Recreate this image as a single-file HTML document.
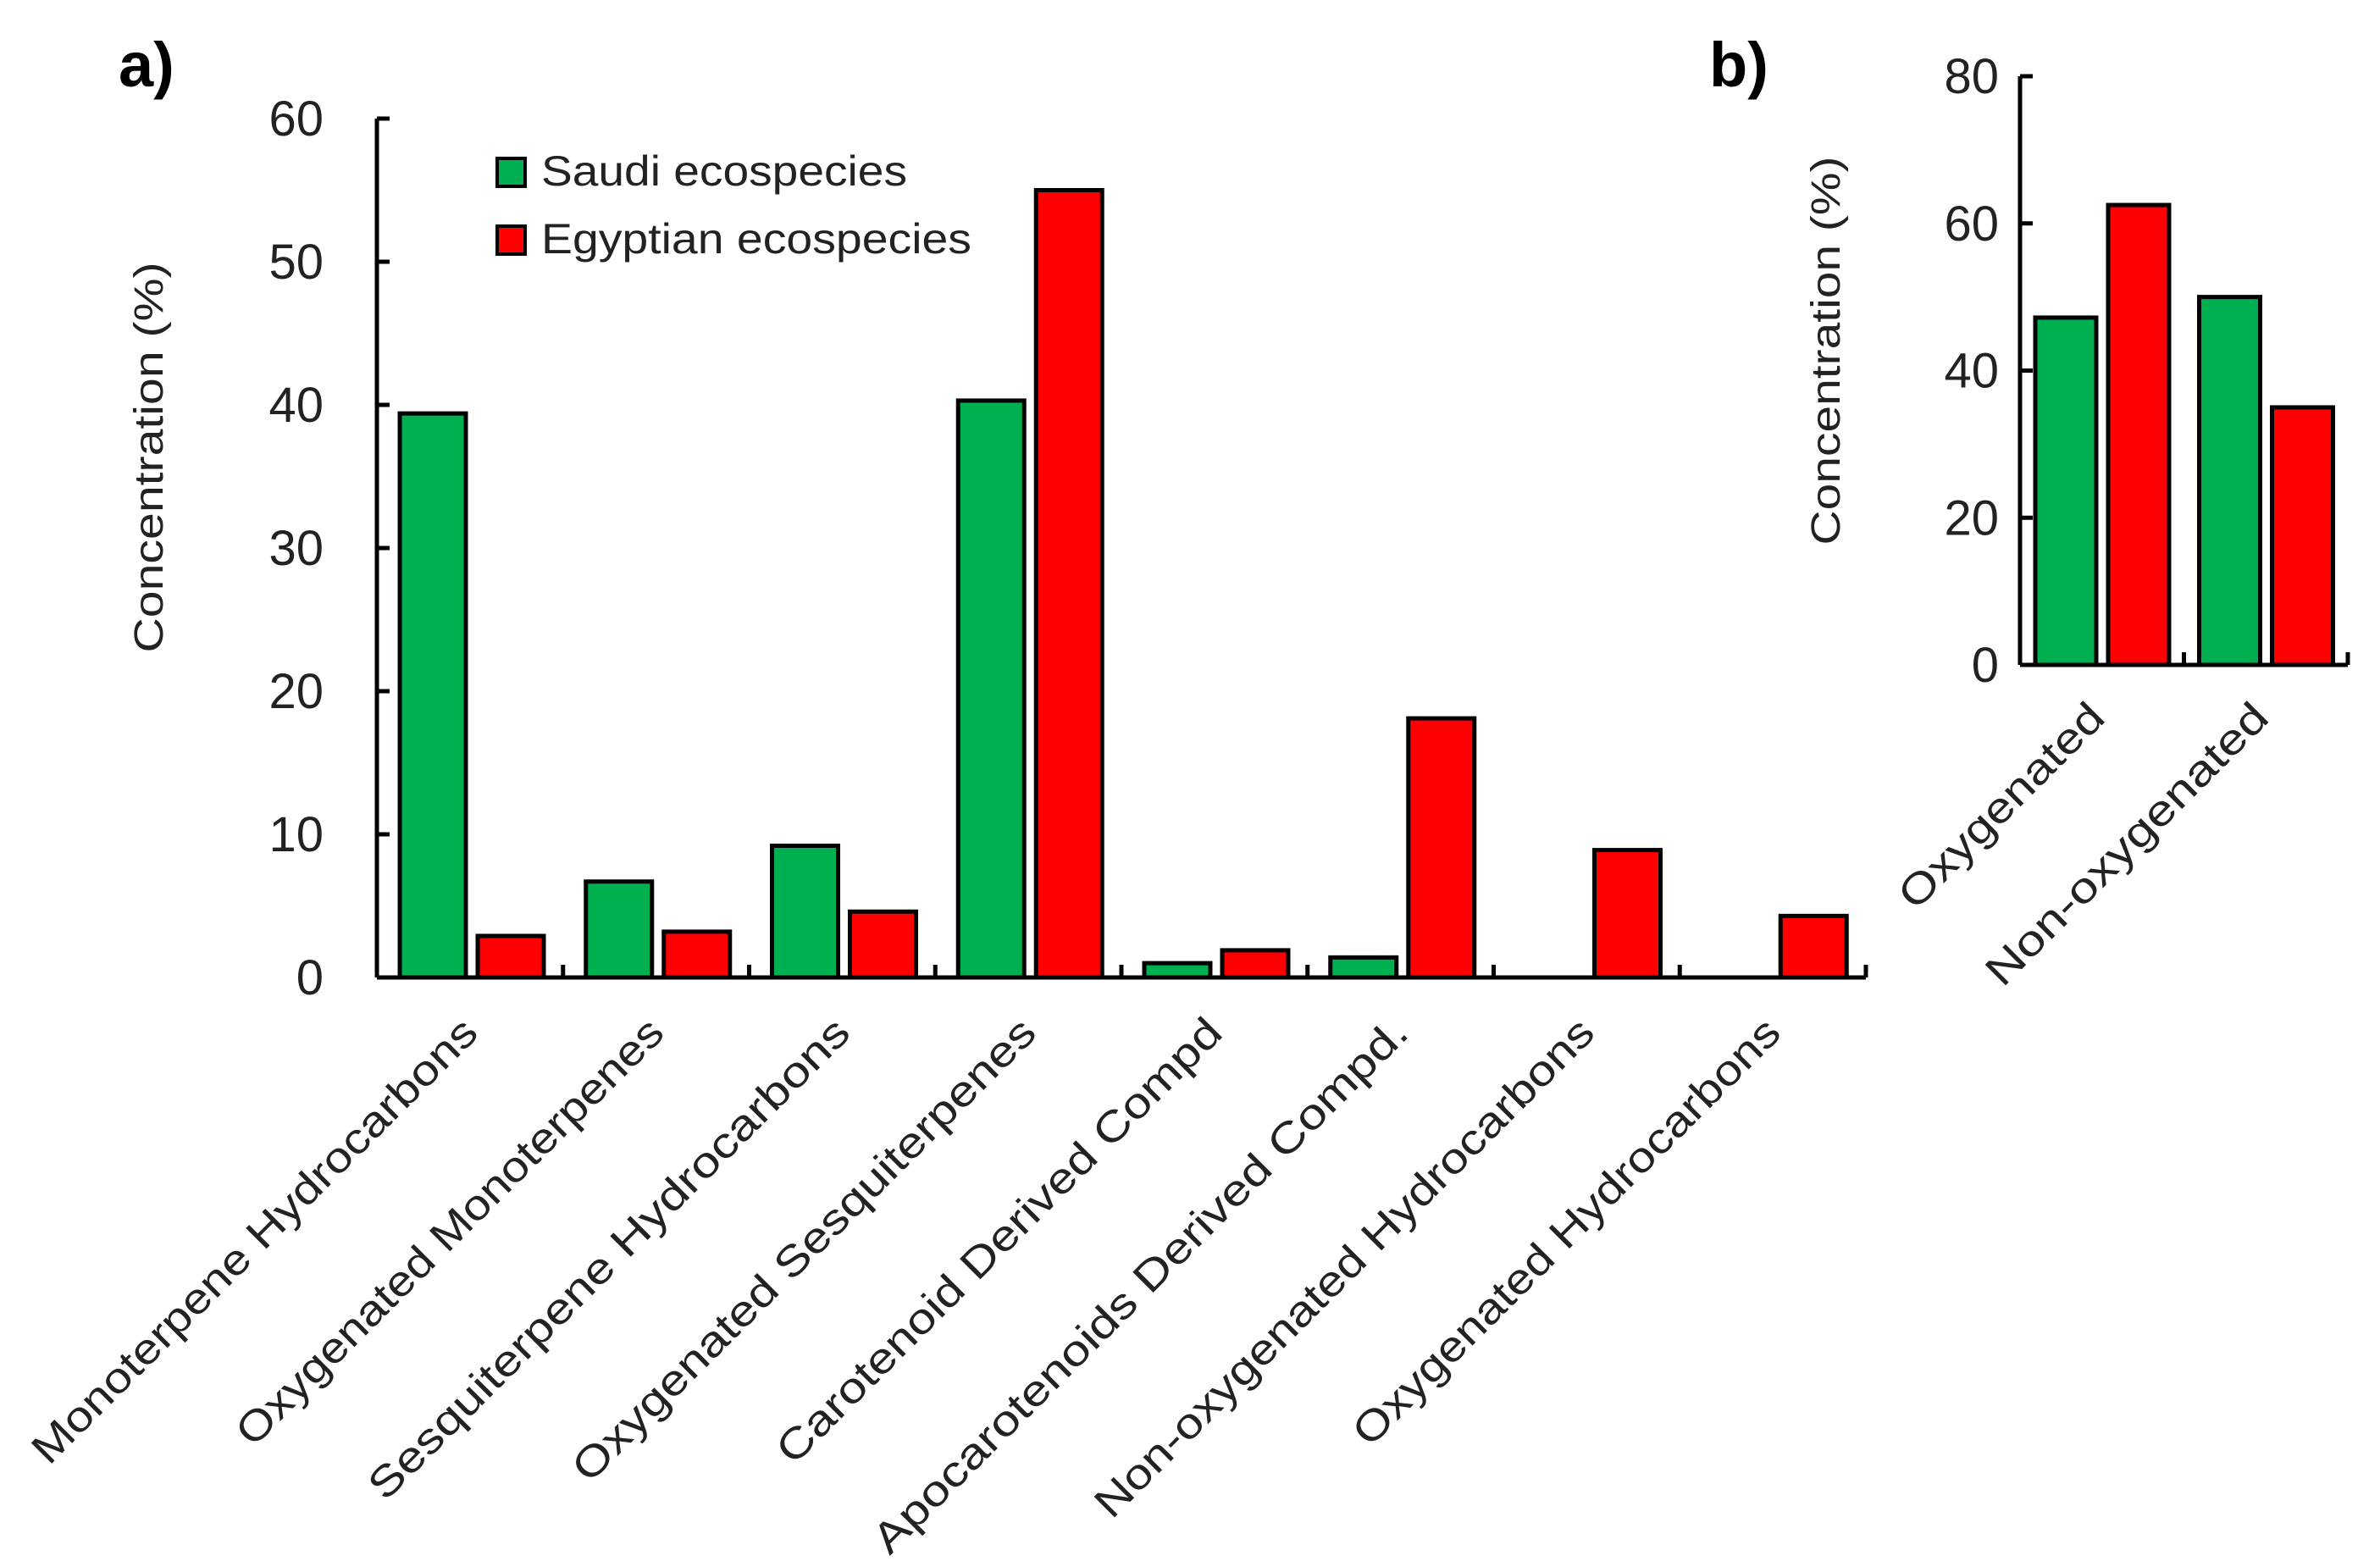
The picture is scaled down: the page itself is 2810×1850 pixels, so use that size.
<!DOCTYPE html>
<html><head><meta charset="utf-8"><style>
html,body{margin:0;padding:0;background:#fff;}
svg{display:block;font-family:"Liberation Sans",sans-serif;}
</style></head><body>
<svg id="c" width="2810" height="1850" viewBox="0 0 2810 1850">
<text x="140" y="102" font-size="74" font-weight="bold">a)</text>
<text x="2018" y="102" font-size="74" font-weight="bold">b)</text>
<g id="ga"></g>
<g id="gb"></g>
<g>
<rect x="587" y="187" width="33" height="33" fill="#00b050" stroke="#000" stroke-width="4"/>
<text x="639" y="219" font-size="50" textLength="432" lengthAdjust="spacingAndGlyphs" fill="#222">Saudi ecospecies</text>
<rect x="587" y="267" width="33" height="33" fill="#ff0000" stroke="#000" stroke-width="4"/>
<text x="639" y="299" font-size="50" textLength="508" lengthAdjust="spacingAndGlyphs" fill="#222">Egyptian ecospecies</text>
</g>
</svg>
<script>
const catsA = ["Monoterpene Hydrocarbons","Oxygenated Monoterpenes","Sesquiterpene Hydrocarbons","Oxygenated Sesquiterpenes","Carotenoid Derived Compd","Apocarotenoids Derived Compd.","Non-oxygenated Hydrocarbons","Oxygenated Hydrocarbons"];
const saudiA = [39.4, 6.7, 9.2, 40.3, 1.0, 1.4, 0, 0];
const egyptA = [2.9, 3.2, 4.6, 55.0, 1.9, 18.1, 8.9, 4.3];
const ticksA = [0,10,20,30,40,50,60];
const catsB = ["Oxygenated","Non-oxygenated"];
const saudiB = [47.2, 50.0];
const egyptB = [62.5, 35.0];
const ticksB = [0,20,40,60,80];

const NS="http://www.w3.org/2000/svg";
function mk(parent,tag,attrs){const e=document.createElementNS(NS,tag);for(const k in attrs)e.setAttribute(k,attrs[k]);parent.appendChild(e);return e;}

function drawChart(g, cfg){
  const {x0,x1,y0,yTop,ymax,cats,s1,s2,ticks,margin,bw,gap,tickFont,labelPerChar,labelFont,labDx,labY,title,titleX,titleLen,tickX} = cfg;
  const yS = v => y0 - (v/ymax)*(y0-yTop);
  const cw = (x1-x0)/cats.length;
  const xS = i => x0 + i*cw;
  cats.forEach((c,i)=>{
    const gx = xS(i)+margin;
    const r1 = mk(g,'rect',{x:gx,y:yS(s1[i]),width:bw,height:Math.max(0,y0-yS(s1[i])),fill:'#00b050',stroke:'#000','stroke-width':5});
    
    
    const r2 = mk(g,'rect',{x:gx+bw+gap,y:yS(s2[i]),width:bw,height:Math.max(0,y0-yS(s2[i])),fill:'#ff0000',stroke:'#000','stroke-width':5});
    
    
    const ax = xS(i)+cw/2+labDx;
    const t = mk(g,'text',{x:ax,y:labY,'font-size':labelFont,'text-anchor':'end',fill:'#222',transform:`rotate(-45 ${ax} ${labY})`,textLength:c.length*labelPerChar,lengthAdjust:'spacingAndGlyphs'});
    t.textContent=c;
    
    
  });
  const ya = mk(g,'path',{d:`M${x0} ${yTop} V${y0}`,stroke:'#000','stroke-width':5,fill:'none'});
  
  
  const xa = mk(g,'path',{d:`M${x0} ${y0} H${x1}`,stroke:'#000','stroke-width':5,fill:'none'});
  
  
  for(let i=1;i<=cats.length;i++){
    const tk = mk(g,'path',{d:`M${xS(i)} ${y0} V${y0-15}`,stroke:'#000','stroke-width':5});
    
    
  }
  ticks.forEach(v=>{
    const tk = mk(g,'path',{d:`M${x0} ${yS(v)} H${x0+15}`,stroke:'#000','stroke-width':5});
    
    
    const t = mk(g,'text',{x:tickX,y:yS(v)+20,'font-size':tickFont,'text-anchor':'end',fill:'#222'});
    t.textContent=v;
    
    
  });
  const ty=(title.y);
  const tt = mk(g,'text',{x:titleX,y:ty,'font-size':48,'text-anchor':'middle',fill:'#222',transform:`rotate(-90 ${titleX} ${ty})`,textLength:titleLen,lengthAdjust:'spacingAndGlyphs'});
  tt.textContent='Concentration (%)';
  
  
}

drawChart(document.getElementById('ga'),{x0:445,x1:2203,y0:1154,yTop:140,ymax:60,cats:catsA,s1:saudiA,s2:egyptA,ticks:ticksA,margin:27,bw:78,gap:14,tickFont:58,labelPerChar:30,labelFont:50,labDx:12,labY:1222,title:{y:540},titleX:192,titleLen:461,tickX:382});
drawChart(document.getElementById('gb'),{x0:2385,x1:2772,y0:785,yTop:90,ymax:80,cats:catsB,s1:saudiB,s2:egyptB,ticks:ticksB,margin:18,bw:72,gap:14,tickFont:58,labelPerChar:32,labelFont:50,labDx:6,labY:850,title:{y:414},titleX:2172,titleLen:459,tickX:2360});
</script>
</body></html>
